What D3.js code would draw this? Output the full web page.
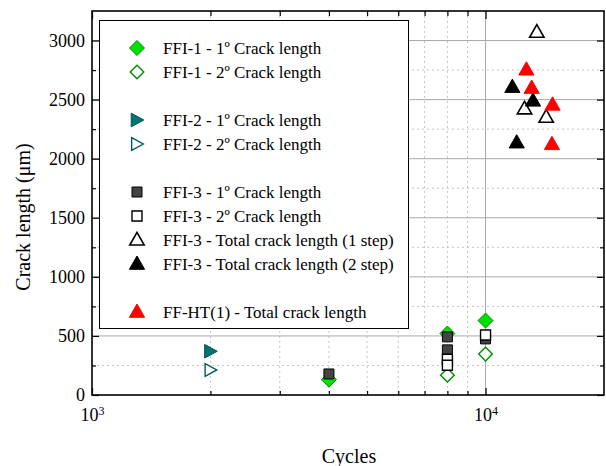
<!DOCTYPE html>
<html>
<head>
<meta charset="utf-8">
<script src="https://cdn.jsdelivr.net/npm/d3@7"></script>
<style>
  body { margin: 0; background: #fff; }
  svg { display: block; }
  text { font-family: "Liberation Serif", "Times New Roman", serif; fill: #000; }
</style>
</head>
<body>
<svg id="chart" width="606" height="466"></svg>
<script>
// Crack length measurements (µm) against number of cycles
const ffi1FirstCycles = [4000, 8000, 10000];
const ffi1FirstLength = [130, 520, 630];
const ffi1SecondCycles = [8000, 10000];
const ffi1SecondLength = [168, 346];

const ffi2FirstCycles = [2000];
const ffi2FirstLength = [370];
const ffi2SecondCycles = [2000];
const ffi2SecondLength = [212];

const ffi3FirstCycles = [4000, 8000, 8000, 10000];
const ffi3FirstLength = [178, 492, 382, 475];
const ffi3SecondCycles = [8000, 8000, 10000];
const ffi3SecondLength = [302, 252, 508];
const ffi3Total1Cycles = [13500, 12560, 14260];
const ffi3Total1Length = [3070, 2422, 2351];
const ffi3Total2Cycles = [11700, 13200, 12000];
const ffi3Total2Length = [2606, 2490, 2136];

const ffhtTotalCycles = [12700, 13100, 14800, 14750];
const ffhtTotalLength = [2753, 2598, 2456, 2122];

const yMajorTicks = [0, 500, 1000, 1500, 2000, 2500, 3000];
const yMinorTicks = [250, 750, 1250, 1750, 2250, 2750];
const xMajorTicks = [1000, 10000];
const xMinorTicks = [2000, 3000, 4000, 5000, 6000, 7000, 8000, 9000];

// custom marker shapes for d3.symbol (size = half width in px)
const shapeDiamond = { draw(c, s) { c.moveTo(0, -s); c.lineTo(s, 0); c.lineTo(0, s); c.lineTo(-s, 0); c.closePath(); } };
const shapeRight = { draw(c, s) { c.moveTo(-s * 0.85, -s); c.lineTo(s, 0); c.lineTo(-s * 0.85, s); c.closePath(); } };
const shapeSquare = { draw(c, s) { c.rect(-s, -s, 2 * s, 2 * s); } };
const shapeUp = { draw(c, s) { c.moveTo(0, -s * 1.05); c.lineTo(s, s * 0.7); c.lineTo(-s, s * 0.7); c.closePath(); } };

const series = [
  { label: "FFI-1 - 1º Crack length", cycles: ffi1FirstCycles, length: ffi1FirstLength, shape: shapeDiamond, size: 7.5, fill: "#00e000", stroke: "#008a00", sw: 1, row: 0 },
  { label: "FFI-1 - 2º Crack length", cycles: ffi1SecondCycles, length: ffi1SecondLength, shape: shapeDiamond, size: 6.8, fill: "#ffffff", stroke: "#008c00", sw: 1.4, row: 1 },
  { label: "FFI-2 - 1º Crack length", cycles: ffi2FirstCycles, length: ffi2FirstLength, shape: shapeRight, size: 6.8, fill: "#007373", stroke: "#004f4f", sw: 1, row: 3 },
  { label: "FFI-2 - 2º Crack length", cycles: ffi2SecondCycles, length: ffi2SecondLength, shape: shapeRight, size: 6.3, fill: "#ffffff", stroke: "#005a5a", sw: 1.4, row: 4 },
  { label: "FFI-3 - 1º Crack length", cycles: ffi3FirstCycles, length: ffi3FirstLength, shape: shapeSquare, size: 5, fill: "#444444", stroke: "#000000", sw: 1, row: 6 },
  { label: "FFI-3 - 2º Crack length", cycles: ffi3SecondCycles, length: ffi3SecondLength, shape: shapeSquare, size: 5, fill: "#ffffff", stroke: "#000000", sw: 1.4, row: 7 },
  { label: "FFI-3 - Total crack length (1 step)", cycles: ffi3Total1Cycles, length: ffi3Total1Length, shape: shapeUp, size: 7.2, fill: "#ffffff", stroke: "#000000", sw: 1.6, row: 8 },
  { label: "FFI-3 - Total crack length (2 step)", cycles: ffi3Total2Cycles, length: ffi3Total2Length, shape: shapeUp, size: 7.6, fill: "#000000", stroke: "#000000", sw: 1, row: 9 },
  { label: "FF-HT(1) - Total crack length", cycles: ffhtTotalCycles, length: ffhtTotalLength, shape: shapeUp, size: 7.6, fill: "#ff0000", stroke: "#ff0000", sw: 1, row: 11 }
];

const svg = d3.select("#chart");
const plotL = 92, plotR = 604, plotT = 11, plotB = 395;

const x = d3.scaleLog().domain([1000, 20000]).range([plotL, plotR]);
const y = d3.scaleLinear().domain([0, 3250]).range([plotB, plotT]);

// grid
const grid = svg.append("g");
grid.selectAll(".ymin").data(yMinorTicks).join("line")
  .attr("x1", plotL).attr("x2", plotR).attr("y1", d => y(d)).attr("y2", d => y(d))
  .attr("stroke", "#c4c4c4").attr("stroke-width", 1).attr("stroke-dasharray", "2,3");
grid.selectAll(".xmin").data(xMinorTicks).join("line")
  .attr("y1", plotT).attr("y2", plotB).attr("x1", d => x(d)).attr("x2", d => x(d))
  .attr("stroke", "#c4c4c4").attr("stroke-width", 1).attr("stroke-dasharray", "2,3");
grid.selectAll(".ymaj").data(yMajorTicks.slice(1)).join("line")
  .attr("x1", plotL).attr("x2", plotR).attr("y1", d => y(d)).attr("y2", d => y(d))
  .attr("stroke", "#a8a8a8").attr("stroke-width", 1);
grid.selectAll(".xmaj").data([10000]).join("line")
  .attr("y1", plotT).attr("y2", plotB).attr("x1", d => x(d)).attr("x2", d => x(d))
  .attr("stroke", "#a8a8a8").attr("stroke-width", 1);

// axes with inward ticks
function styleAxis(g) { g.select(".domain").remove(); g.selectAll("line").attr("stroke", "#000").attr("stroke-width", 1.2); }
svg.append("g").attr("transform", `translate(${plotL},0)`)
  .call(d3.axisLeft(y).tickValues(yMajorTicks).tickSize(-7).tickPadding(7).tickFormat(d3.format("d")))
  .call(styleAxis)
  .call(g => g.selectAll("text").attr("font-size", 18).style("font-family", "'Liberation Serif', serif"));
svg.append("g").attr("transform", `translate(${plotL},0)`)
  .call(d3.axisLeft(y).tickValues(yMinorTicks).tickSize(-4).tickFormat(""))
  .call(styleAxis);
svg.append("g").attr("transform", `translate(${plotR},0)`)
  .call(d3.axisRight(y).tickValues(yMajorTicks).tickSize(-7).tickFormat(""))
  .call(styleAxis);
svg.append("g").attr("transform", `translate(${plotR},0)`)
  .call(d3.axisRight(y).tickValues(yMinorTicks).tickSize(-4).tickFormat(""))
  .call(styleAxis);

svg.append("g").attr("transform", `translate(0,${plotB})`)
  .call(d3.axisBottom(x).tickValues(xMajorTicks).tickSize(-7).tickPadding(13).tickFormat(""))
  .call(styleAxis)
  .call(g => g.selectAll(".tick text").each(function (d) {
    const t = d3.select(this).attr("font-size", 18).style("font-family", "'Liberation Serif', serif");
    t.append("tspan").text("10");
    t.append("tspan").attr("dy", "-0.45em").attr("font-size", 12).text(Math.round(Math.log10(d)));
  }));
svg.append("g").attr("transform", `translate(0,${plotB})`)
  .call(d3.axisBottom(x).tickValues(xMinorTicks).tickSize(-4).tickFormat(""))
  .call(styleAxis);
svg.append("g").attr("transform", `translate(0,${plotT})`)
  .call(d3.axisTop(x).tickValues(xMajorTicks).tickSize(-8).tickFormat(""))
  .call(styleAxis);
svg.append("g").attr("transform", `translate(0,${plotT})`)
  .call(d3.axisTop(x).tickValues(xMinorTicks).tickSize(-5).tickFormat(""))
  .call(styleAxis);

// frame
svg.append("rect").attr("x", plotL).attr("y", plotT).attr("width", plotR - plotL).attr("height", plotB - plotT)
  .attr("fill", "none").attr("stroke", "#000").attr("stroke-width", 1.6);

// axis titles
svg.append("text").attr("x", (plotL + plotR) / 2 + 1).attr("y", 463).attr("text-anchor", "middle")
  .attr("font-size", 20).text("Cycles");
svg.append("text").attr("transform", "translate(30,217) rotate(-90)").attr("text-anchor", "middle")
  .attr("font-size", 20).text("Crack length (μm)");

// legend
const legend = svg.append("g");
legend.append("rect").attr("x", 99.5).attr("y", 20.5).attr("width", 309).attr("height", 308)
  .attr("fill", "#fff").attr("stroke", "#000").attr("stroke-width", 1);
const rowY = r => 48 + r * 24;
series.forEach(s => {
  const sym = d3.symbol().type(s.shape).size(s.size);
  legend.append("path").attr("d", sym()).attr("transform", `translate(137,${rowY(s.row)})`)
    .attr("fill", s.fill).attr("stroke", s.stroke).attr("stroke-width", s.sw);
  legend.append("text").attr("x", 163).attr("y", rowY(s.row) + 6).attr("font-size", 17).text(s.label);
});

// data markers
const marks = svg.append("g");
series.forEach(s => {
  const sym = d3.symbol().type(s.shape).size(s.size);
  marks.selectAll(null).data(d3.range(s.cycles.length)).join("path")
    .attr("d", sym())
    .attr("transform", i => `translate(${x(s.cycles[i])},${y(s.length[i])})`)
    .attr("fill", s.fill).attr("stroke", s.stroke).attr("stroke-width", s.sw);
});
</script>
</body>
</html>
